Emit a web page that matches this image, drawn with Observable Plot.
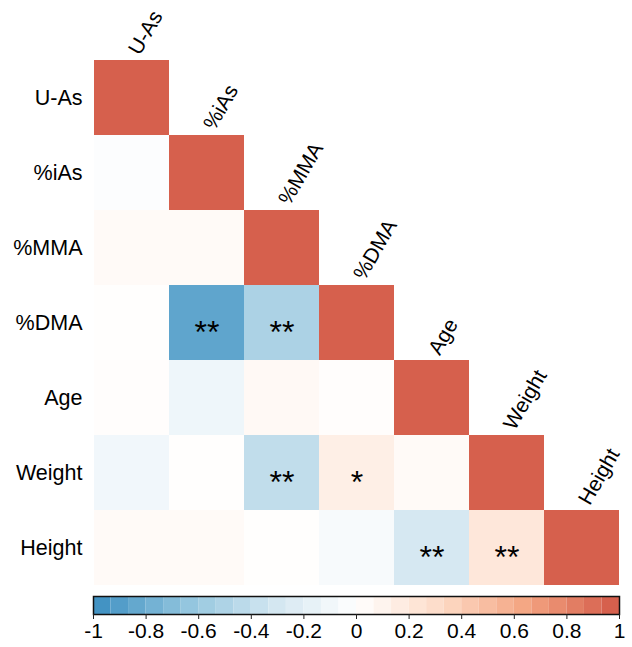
<!DOCTYPE html>
<html>
<head>
<meta charset="utf-8">
<script src="https://cdn.jsdelivr.net/npm/d3@7"></script>
<script src="https://cdn.jsdelivr.net/npm/@observablehq/plot@0.6"></script>
<style>
  html, body { margin: 0; padding: 0; background: #fff; }
  #chart { width: 632px; font-family: "Liberation Sans", Arial, sans-serif; }
  #chart svg { display: block; }
</style>
</head>
<body>
<div id="chart"></div>
<script>
// Variables (row/column order)
const vars = ["U-As", "%iAs", "%MMA", "%DMA", "Age", "Weight", "Height"];

// Lower-triangle correlations (row variable vs earlier columns), diagonal = 1
const rowUAs    = [];
const rowIAs    = [-0.02];
const rowMMA    = [0.05, 0.05];
const rowDMA    = [0.01, -0.88, -0.53];
const rowAge    = [0.02, -0.12, 0.06, 0.02];
const rowWeight = [-0.10, 0.01, -0.42, 0.15, 0.05];
const rowHeight = [0.05, 0.05, 0.01, -0.06, -0.30, 0.22];

// Significance marks
const sigUAs    = [];
const sigIAs    = [""];
const sigMMA    = ["", ""];
const sigDMA    = ["", "**", "**"];
const sigAge    = ["", "", "", ""];
const sigWeight = ["", "", "**", "*", ""];
const sigHeight = ["", "", "", "", "**", "**"];

// Colour bar ticks
const barTicks = [-1, -0.8, -0.6, -0.4, -0.2, 0, 0.2, 0.4, 0.6, 0.8, 1];
const barTickLabels = ["-1", "-0.8", "-0.6", "-0.4", "-0.2", "0", "0.2", "0.4", "0.6", "0.8", "1"];
const nBands = 30;

const palette = ["#4393C3", "#92C5DE", "#D1E5F0", "#FFFFFF", "#FDDBC7", "#F4A582", "#D6604D"];
const paletteDomain = [-1, -2/3, -1/3, 0, 1/3, 2/3, 1];

const rows = [rowUAs, rowIAs, rowMMA, rowDMA, rowAge, rowWeight, rowHeight];
const sigs = [sigUAs, sigIAs, sigMMA, sigDMA, sigAge, sigWeight, sigHeight];

const cells = [];
rows.forEach((vals, i) => {
  vals.forEach((r, j) => cells.push({row: vars[i], col: vars[j], r, sig: sigs[i][j]}));
  cells.push({row: vars[i], col: vars[i], r: 1, sig: ""});
});

const colorScale = {type: "linear", domain: paletteDomain, range: palette, interpolate: "rgb"};
const font = "Liberation Sans, Arial, sans-serif";

const main = Plot.plot({
  width: 632,
  height: 590,
  marginLeft: 93,
  marginRight: 13,
  marginTop: 60,
  marginBottom: 5,
  style: {fontFamily: font, background: "#fff"},
  x: {type: "band", domain: vars, padding: 0, axis: null},
  y: {type: "band", domain: vars, padding: 0, label: null, tickSize: 0, tickPadding: 11},
  color: colorScale,
  marks: [
    Plot.cell(cells, {x: "col", y: "row", fill: "r", inset: 0}),
    Plot.axisY({tickSize: 0, tickPadding: 11, fontSize: 21.5, fill: "#000", label: null}),
    Plot.text(cells.filter(d => d.sig), {x: "col", y: "row", text: "sig", fontSize: 32, dy: 10, fill: "#000"}),
    Plot.text(vars, {x: d => d, y: d => d, text: d => d, rotate: -60, textAnchor: "start", dx: 2, dy: -45, fontSize: 21, fill: "#000"})
  ]
});

const bands = d3.range(nBands).map(k => ({
  x1: -1 + 2 * k / nBands,
  x2: -1 + 2 * (k + 1) / nBands,
  v: -1 + 2 * k / (nBands - 1)
}));

const bar = Plot.plot({
  width: 632,
  height: 57,
  marginLeft: 93,
  marginRight: 13,
  marginTop: 6,
  marginBottom: 33,
  style: {fontFamily: font, background: "#fff"},
  x: {domain: [-1, 1]},
  y: {domain: [0, 1], axis: null},
  color: colorScale,
  marks: [
    Plot.rect(bands, {x1: "x1", x2: "x2", y1: 0, y2: 1, fill: "v"}),
    Plot.frame({stroke: "#111", strokeWidth: 1.5}),
    Plot.axisX({ticks: barTicks, tickFormat: (d, i) => barTickLabels[i], tickSize: 5, tickPadding: 4, fontSize: 21, fill: "#000", stroke: "#222", label: null})
  ]
});

const root = document.getElementById("chart");
root.appendChild(main);
root.appendChild(bar);
</script>
</body>
</html>
